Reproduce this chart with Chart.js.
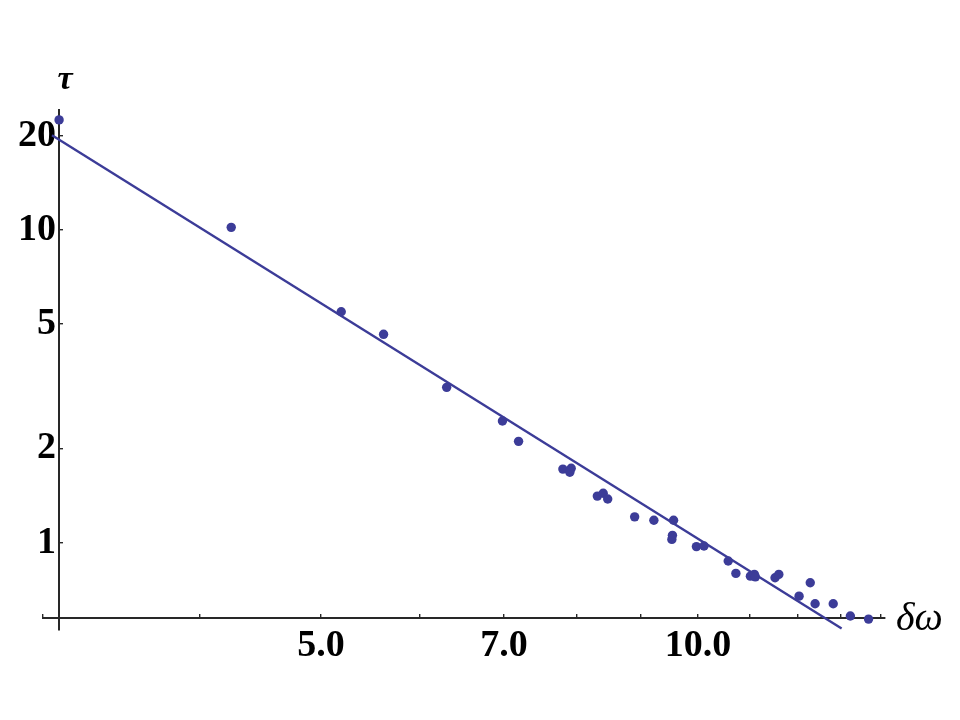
<!DOCTYPE html>
<html>
<head>
<meta charset="utf-8">
<script src="https://cdn.jsdelivr.net/npm/chart.js@4.4.1/dist/chart.umd.min.js"></script>
<style>
  html, body { margin: 0; padding: 0; background: #fff; }
  #wrap { width: 960px; height: 720px; }
</style>
</head>
<body>
<div id="wrap"><canvas id="tau-plot" width="960" height="720"></canvas></div>
<script>
// measured points: relaxation time tau vs frequency offset dw (log-log)
let dw = [3.09, 4.24, 5.19, 5.61, 6.30, 6.98, 7.19, 7.80, 7.92, 7.90, 8.31, 8.40, 8.47,
          8.90, 9.22, 9.56, 9.54, 9.53, 9.97, 10.11, 10.57, 10.72, 11.01, 11.09, 11.11,
          11.52, 11.60, 12.04, 12.29, 12.40, 12.82, 13.23, 13.68];
let tau = [22.5, 10.2, 5.48, 4.64, 3.14, 2.45, 2.11, 1.72, 1.73, 1.68, 1.41, 1.44, 1.38,
           1.21, 1.18, 1.18, 1.056, 1.025, 0.972, 0.976, 0.874, 0.798, 0.782, 0.792, 0.778,
           0.773, 0.792, 0.675, 0.745, 0.638, 0.638, 0.583, 0.570];

// fitted power law (slope about -2.5), end points
let fit_x = [3.05, 13.02];
let fit_y = [20.1, 0.532];

let x_ticks = [3, 4, 5, 6, 7, 8, 9, 10, 11, 12, 13, 14];
let x_labels = {5: "5.0", 7: "7.0", 10: "10.0"};
let y_ticks = [1, 2, 5, 10, 20];

let dot_blue = "rgb(60,60,152)";
let axis_col = "rgb(40,40,40)";
let label_font = { family: "'Liberation Serif', 'DejaVu Serif', serif", size: 38, weight: "bold" };

let axisNames = {
  id: "axisNames",
  afterDraw(chart) {
    let ctx = chart.ctx;
    let xs = chart.scales.x, ys = chart.scales.y;
    ctx.save();
    ctx.fillStyle = "#000";
    ctx.textBaseline = "middle";
    ctx.font = "italic bold 34px 'Liberation Serif', serif";
    ctx.textAlign = "center";
    ctx.fillText("\u03c4", xs.getPixelForValue(3.09) + 6, ys.top - 30);
    ctx.font = "italic 40px 'Liberation Serif', serif";
    ctx.textAlign = "left";
    ctx.fillText("\u03b4\u03c9", xs.right + 11, ys.getPixelForValue(0.576) + 2);
    ctx.restore();
  }
};

let pts = dw.map((v, i) => ({ x: v, y: tau[i] }));
let fitPts = fit_x.map((v, i) => ({ x: v, y: fit_y[i] }));

new Chart(document.getElementById("tau-plot").getContext("2d"), {
  type: "scatter",
  data: {
    datasets: [
      {
        data: pts,
        backgroundColor: dot_blue,
        borderWidth: 0,
        pointRadius: 4.7,
        pointHoverRadius: 4.7
      },
      {
        type: "line",
        data: fitPts,
        borderColor: dot_blue,
        borderWidth: 2.4,
        pointRadius: 0,
        fill: false,
        tension: 0
      }
    ]
  },
  options: {
    responsive: false,
    devicePixelRatio: 1,
    animation: false,
    layout: { padding: { left: 43, right: 75, top: 110, bottom: 90 } },
    plugins: { legend: { display: false }, tooltip: { enabled: false } },
    scales: {
      x: {
        type: "logarithmic",
        bounds: "data",
        min: 3,
        max: 14.1,
        position: { y: 0.576 },
        afterFit: s => { s.height = 0; },
        afterBuildTicks: s => { s.ticks = x_ticks.map(v => ({ value: v })); },
        ticks: {
          autoSkip: false,
          maxRotation: 0,
          padding: 11,
          color: "#000",
          font: label_font,
          callback: v => x_labels[v] || ""
        },
        grid: { drawOnChartArea: false, tickLength: -5, color: axis_col, lineWidth: 1.4 },
        border: { color: axis_col, width: 2 }
      },
      y: {
        type: "logarithmic",
        bounds: "data",
        min: 0.526,
        max: 24.2,
        position: { x: 3.09 },
        afterFit: s => { s.width = 0; },
        afterBuildTicks: s => { s.ticks = y_ticks.map(v => ({ value: v })); },
        ticks: {
          autoSkip: false,
          color: "#000",
          font: label_font,
          callback: v => String(v) + "\u200a"
        },
        grid: { drawOnChartArea: false, tickLength: -5, color: axis_col, lineWidth: 1.4 },
        border: { color: axis_col, width: 2 }
      }
    }
  },
  plugins: [axisNames]
});
</script>
</body>
</html>
